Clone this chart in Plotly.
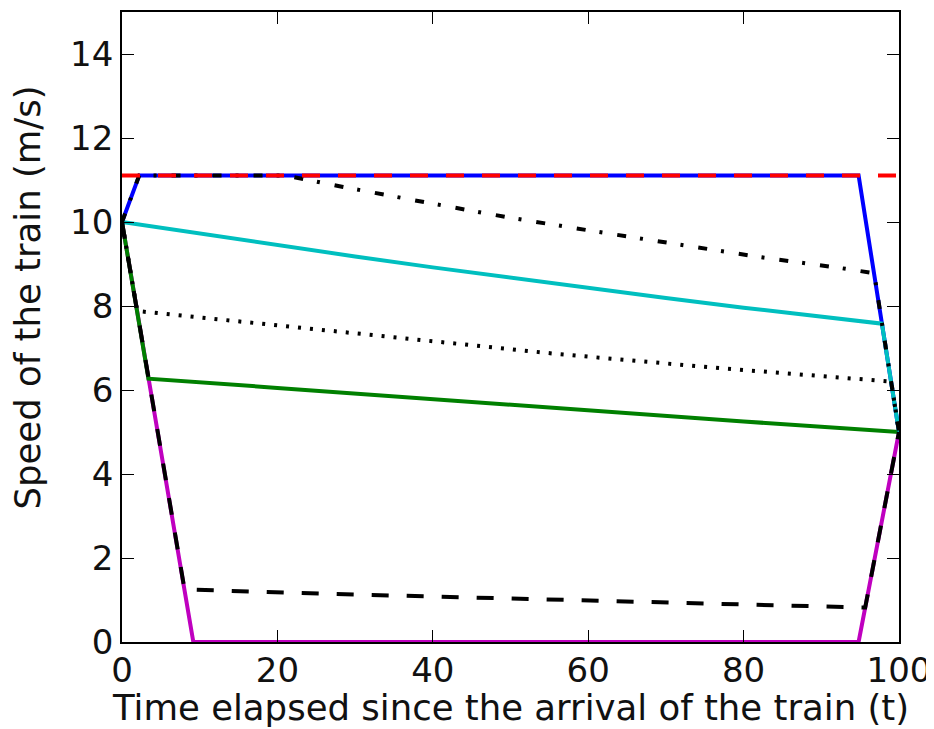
import plotly.graph_objects as go

# ---- data (time in s, speed in m/s) ----
limit_t = [0, 100]
limit_v = [11.11, 11.11]

blue_t = [0, 2.22, 94.8, 100]
blue_v = [10.0, 11.11, 11.11, 5.0]

magenta_t = [0, 9.18, 94.8, 100]
magenta_v = [10.0, 0.0, 0.0, 5.0]

green_t = [0, 3.4, 20, 40, 60, 80, 100]
green_v = [10.0, 6.27, 6.05, 5.78, 5.50, 5.25, 5.0]

cyan_t = [0, 10, 20, 30, 40, 50, 60, 70, 80, 90, 97.8, 100]
cyan_v = [10.0, 9.72, 9.45, 9.18, 8.92, 8.67, 8.43, 8.19, 7.96, 7.74, 7.58, 5.0]

dotted_t = [0, 1.95, 3.6, 29.1, 55.9, 77.0, 99.0, 100]
dotted_v = [10.0, 7.88, 7.85, 7.36, 6.86, 6.52, 6.20, 5.0]

dashed_t = [0, 8.05, 30, 50, 70, 95.65, 100]
dashed_v = [10.0, 1.25, 1.13, 1.03, 0.94, 0.82, 5.0]

dashdot_t = [0, 2.22, 21, 28.3, 39.0, 49.7, 60.4, 71.2, 81.9, 92.6, 96.8, 100]
dashdot_v = [10.0, 11.11, 11.11, 10.84, 10.47, 10.11, 9.79, 9.47, 9.17, 8.90, 8.78, 5.0]

x_ticks = [0, 20, 40, 60, 80, 100]
y_ticks = [0, 2, 4, 6, 8, 10, 12, 14]

x_title = "Time elapsed since the arrival of the train (t)"
y_title = "Speed of the train (m/s)"

LW = 4
fig = go.Figure()

def add(t, v, color, dash="solid"):
    fig.add_trace(go.Scatter(x=t, y=v, mode="lines",
                             line=dict(color=color, width=LW, dash=dash),
                             showlegend=False, hoverinfo="skip"))

add(magenta_t, magenta_v, "#BF00BF")
add(blue_t, blue_v, "#0000FF")
add(green_t, green_v, "#008000")
add(cyan_t, cyan_v, "#00BFBF")
add(dotted_t, dotted_v, "black", "3px,9px")
add(dashed_t, dashed_v, "black", "17px,18px")
add(dashdot_t, dashdot_v, "black", "9px,14px,3px,15px")
add(limit_t, limit_v, "#FF0000", "18px,18px")

tick_font = dict(family="DejaVu Sans", size=34, color="#111111")
label_font = dict(family="DejaVu Sans", size=35.5, color="#111111")

axis_common = dict(
    showgrid=False, zeroline=False, showline=True, linecolor="black",
    linewidth=1.8, mirror="allticks", ticks="inside", ticklen=12,
    tickwidth=1.2, tickcolor="black", tickfont=tick_font,
)

# page body has an 8px default margin; compensate so the plot area sits at
# x 122..899, y 10..642 of the 934x729 window
fig.update_layout(
    width=926, height=721,
    margin=dict(l=114, r=35, t=2, b=87),
    plot_bgcolor="white", paper_bgcolor="white",
    xaxis=dict(range=[0, 100], tickvals=x_ticks, ticklabelstandoff=-3,
               **axis_common),
    yaxis=dict(range=[0, 15], tickvals=y_ticks, **axis_common),
    annotations=[
        dict(text=y_title, textangle=-90,
             xref="paper", yref="paper", x=-0.122, y=0.547,
             xanchor="center", yanchor="middle", showarrow=False,
             font=label_font),
        dict(text=x_title,
             xref="paper", yref="paper", x=0.5, y=-0.1375,
             xanchor="center", yanchor="bottom", showarrow=False,
             font=label_font, borderpad=0),
    ],
)

fig.write_html("out.html")
